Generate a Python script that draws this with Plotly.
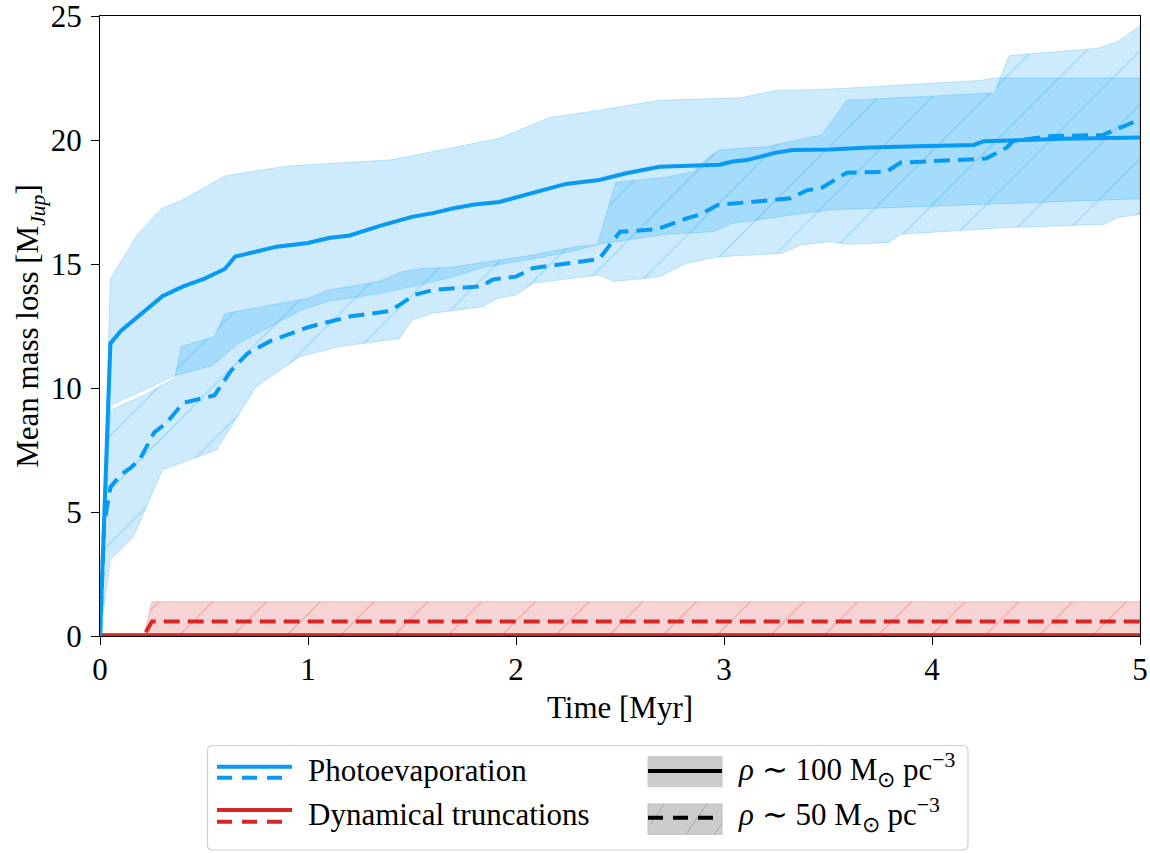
import plotly.graph_objects as go

# ---------------- data ----------------
# Photoevaporation, rho ~ 100 Msun/pc^3 (solid)
t_pe100 = [0, 0.05, 0.1, 0.2, 0.3, 0.4, 0.5, 0.6, 0.65, 0.7, 0.85, 1.0, 1.1, 1.2, 1.35,
           1.5, 1.6, 1.7, 1.8, 1.92, 2.08, 2.24, 2.4, 2.53, 2.69, 2.98, 3.04, 3.11, 3.25,
           3.33, 3.51, 3.7, 3.93, 4.2, 4.25, 4.63, 5.0]
m_pe100 = [0, 11.8, 12.3, 13.0, 13.7, 14.1, 14.4, 14.8, 15.3, 15.4, 15.7, 15.85, 16.05,
           16.15, 16.55, 16.9, 17.05, 17.25, 17.4, 17.5, 17.85, 18.23, 18.39, 18.66, 18.92,
           19.0, 19.13, 19.19, 19.49, 19.6, 19.62, 19.7, 19.75, 19.8, 19.95, 20.05, 20.1]
tu_pe100 = [0, 0.05, 0.18, 0.3, 0.4, 0.6, 0.9, 1.1, 1.4, 1.55, 1.7, 1.92, 2.16, 2.4, 2.69,
            3.08, 3.25, 3.5, 4.23, 4.3, 5.0]
u_pe100 = [0, 14.4, 16.2, 17.25, 17.6, 18.55, 18.95, 19.05, 19.2, 19.45, 19.7, 20.07, 20.9,
           21.2, 21.6, 21.7, 22.0, 22.05, 22.4, 22.5, 22.5]
tl_pe100 = [0, 0.05, 0.22, 0.36, 0.54, 0.665, 0.78, 0.97, 1.1, 1.34, 1.56, 1.7, 1.86, 2.08,
            2.29, 2.4, 2.72, 2.95, 3.04, 3.5, 4.23, 5.0]
l_pe100 = [0, 9.3, 9.95, 10.5, 10.9, 11.8, 12.3, 13.15, 13.5, 13.8, 14.2, 14.5, 14.9, 15.2,
           15.55, 15.8, 16.2, 16.3, 16.64, 17.18, 17.4, 17.63]

# Photoevaporation, rho ~ 50 Msun/pc^3 (dashed)
t_pe50 = [0, 0.02, 0.05, 0.1, 0.15, 0.19, 0.26, 0.32, 0.4, 0.55, 0.63, 0.71, 0.82, 1.0, 1.2,
          1.39, 1.44, 1.51, 1.6, 1.83, 1.89, 2.0, 2.08, 2.36, 2.4, 2.5, 2.68, 2.82, 2.88,
          2.97, 3.32, 3.4, 3.46, 3.59, 3.78, 3.85, 4.26, 4.36, 4.39, 4.58, 4.82, 5.0]
m_pe50 = [0, 4.5, 6.0, 6.5, 6.8, 7.1, 8.2, 8.6, 9.4, 9.7, 10.7, 11.4, 11.9, 12.45, 12.88,
          13.1, 13.35, 13.75, 13.95, 14.1, 14.38, 14.49, 14.83, 15.15, 15.2, 16.3, 16.4,
          16.84, 16.98, 17.38, 17.65, 17.98, 18.02, 18.68, 18.72, 19.09, 19.25, 19.7, 19.96,
          20.16, 20.2, 20.83]
tu_pe50 = [0, 0.05, 0.22, 0.36, 0.39, 0.55, 0.6, 0.78, 1.0, 1.1, 1.34, 1.45, 1.56, 1.68,
           1.86, 2.08, 2.29, 2.39, 2.48, 2.72, 2.85, 2.93, 2.98, 3.2, 3.41, 3.47, 3.59, 4.3,
           4.37, 4.8, 4.9, 5.0]
u_pe50 = [0, 9.1, 9.75, 10.4, 11.67, 12.07, 13.0, 13.28, 13.62, 13.95, 14.29, 14.69, 14.83,
          14.86, 15.09, 15.36, 15.7, 15.77, 18.3, 18.5, 18.72, 19.33, 19.6, 19.73, 20.1, 20.2,
          21.6, 21.9, 23.4, 23.7, 24.0, 24.6]
tl_pe50 = [0, 0.05, 0.16, 0.21, 0.3, 0.43, 0.56, 0.66, 0.75, 0.96, 1.15, 1.44, 1.5, 1.6,
           1.84, 1.91, 2.0, 2.08, 2.4, 2.47, 2.69, 2.82, 2.97, 3.28, 3.37, 3.51, 3.59, 3.79,
           3.85, 4.34, 4.83, 4.89, 5.0]
l_pe50 = [0, 3.06, 4.0, 4.95, 6.7, 7.1, 7.5, 8.84, 10.05, 11.26, 11.67, 12.0, 12.74, 13.01,
          13.28, 13.62, 13.75, 14.22, 14.56, 14.29, 14.49, 15.03, 15.29, 15.43, 15.77, 15.9,
          15.8, 15.86, 16.2, 16.46, 16.6, 16.87, 17.0]

# Dynamical truncations, rho ~ 100 (solid)
t_dt100 = [0, 5.0]
m_dt100 = [0.03, 0.03]
u_dt100 = [0.1, 0.1]
l_dt100 = [0.0, 0.0]

# Dynamical truncations, rho ~ 50 (dashed)
t_dt50 = [0, 0.21, 0.25, 5.0]
m_dt50 = [0, 0, 0.58, 0.58]
u_dt50 = [0, 0, 1.38, 1.38]
l_dt50 = [-0.22, -0.22, -0.22, -0.22]

# ---------------- styling ----------------
BLUE = "#069AF3"
RED = "#D62728"
FONT = "Liberation Serif"
FS = 31


def rgba(hexc, a):
    h = hexc.lstrip("#")
    r, g, b = int(h[0:2], 16), int(h[2:4], 16), int(h[4:6], 16)
    return f"rgba({r},{g},{b},{a})"


def band(tu, u, tl, l, color, hatch):
    xs = list(tu) + list(reversed(tl))
    ys = list(u) + list(reversed(l))
    kw = dict(x=xs, y=ys, mode="lines", fill="toself",
              fillcolor=rgba(color, 0.2),
              line=dict(width=1, color=rgba(color, 0.22)),
              hoverinfo="skip", showlegend=False)
    if hatch:
        kw["fillpattern"] = dict(shape="/", size=38, solidity=0.03,
                                 fgcolor=rgba(color, 0.3), fgopacity=1,
                                 bgcolor=rgba(color, 0.2), fillmode="replace")
    return go.Scatter(**kw)


fig = go.Figure()
fig.add_trace(band(tu_pe100, u_pe100, tl_pe100, l_pe100, BLUE, False))
fig.add_trace(band(tu_pe50, u_pe50, tl_pe50, l_pe50, BLUE, True))
fig.add_trace(band(t_dt100, u_dt100, t_dt100, l_dt100, RED, False))
fig.add_trace(band(t_dt50, u_dt50, t_dt50, l_dt50, RED, True))

fig.add_trace(go.Scatter(x=t_dt100, y=m_dt100, mode="lines",
                         line=dict(color=RED, width=4), showlegend=False))
fig.add_trace(go.Scatter(x=t_dt50, y=m_dt50, mode="lines",
                         line=dict(color=RED, width=4, dash="16px,8px"), showlegend=False))
fig.add_trace(go.Scatter(x=t_pe100, y=m_pe100, mode="lines",
                         line=dict(color=BLUE, width=4), showlegend=False))
fig.add_trace(go.Scatter(x=t_pe50, y=m_pe50, mode="lines",
                         line=dict(color=BLUE, width=4, dash="16px,8px"), showlegend=False))

# ---------------- layout ----------------
W, H = 1150, 853
ML, MR, MT, MB = 100, 10, 16, 217
PW, PH = W - ML - MR, H - MT - MB


def px(x):  # window pixel -> paper x
    return (x - ML) / PW


def py(y):  # window pixel -> paper y
    return (H - MB - y) / PH


axis_common = dict(showgrid=False, zeroline=False, showline=True, linecolor="black",
                   linewidth=1.2, mirror=True, ticks="outside", ticklen=8,
                   tickwidth=1.2, tickcolor="black", ticklabeloverflow="allow",
                   tickfont=dict(family=FONT, size=FS, color="black"))

fig.update_layout(
    width=W, height=H,
    margin=dict(l=ML, r=MR, t=MT, b=MB, autoexpand=False),
    paper_bgcolor="white", plot_bgcolor="white",
    showlegend=False,
    xaxis=dict(range=[0, 5], tickvals=[0, 1, 2, 3, 4, 5], ticktext=["0", "1", "2", "3", "4", "5"],
               ticklabelstandoff=-2,
               title=dict(text="Time [Myr]", font=dict(family=FONT, size=FS, color="black"),
                          standoff=10),
               **axis_common),
    yaxis=dict(range=[0, 25], tickvals=[0, 5, 10, 15, 20, 25],
               ticktext=["0", "5", "10", "15", "20", "25"],
               ticklabelstandoff=3,
               title=dict(text="Mean mass loss [M<sub><i>Jup</i></sub>]",
                          font=dict(family=FONT, size=FS, color="black"), standoff=2),
               **axis_common),
)

# ---------------- manual legend ----------------
def rounded_box(x0, y0, x1, y1, r):
    rx, ry = r / PW, r / PH
    X0, X1, Y0, Y1 = px(x0), px(x1), py(y1), py(y0)  # Y0 bottom, Y1 top
    return (f"M {X0 + rx},{Y0} L {X1 - rx},{Y0} Q {X1},{Y0} {X1},{Y0 + ry} "
            f"L {X1},{Y1 - ry} Q {X1},{Y1} {X1 - rx},{Y1} L {X0 + rx},{Y1} "
            f"Q {X0},{Y1} {X0},{Y1 - ry} L {X0},{Y0 + ry} Q {X0},{Y0} {X0 + rx},{Y0} Z")


shapes = []
shapes.append(dict(type="path", xref="paper", yref="paper",
                   path=rounded_box(207.5, 745.5, 968, 850, 5),
                   line=dict(color="#d0d0d0", width=1.2), fillcolor="white"))
# blue
shapes.append(dict(type="line", xref="paper", yref="paper", x0=px(217), x1=px(292),
                   y0=py(766.7), y1=py(766.7), line=dict(color=BLUE, width=4)))
shapes.append(dict(type="line", xref="paper", yref="paper", x0=px(217), x1=px(292),
                   y0=py(777.7), y1=py(777.7), line=dict(color=BLUE, width=4, dash="15px,10px")))
# red
shapes.append(dict(type="line", xref="paper", yref="paper", x0=px(217), x1=px(292),
                   y0=py(810), y1=py(810), line=dict(color=RED, width=4)))
shapes.append(dict(type="line", xref="paper", yref="paper", x0=px(217), x1=px(292),
                   y0=py(821.7), y1=py(821.7), line=dict(color=RED, width=4, dash="15px,10px")))
# gray patches
shapes.append(dict(type="rect", xref="paper", yref="paper", x0=px(648), x1=px(722),
                   y0=py(786.7), y1=py(756.7), fillcolor="#cccccc",
                   line=dict(color="#c4c4c4", width=1)))
shapes.append(dict(type="rect", xref="paper", yref="paper", x0=px(648), x1=px(722),
                   y0=py(834.3), y1=py(804), fillcolor="#cccccc",
                   line=dict(color="#bdbdbd", width=1)))
for (a, b, c, d) in [(650, 825, 664, 804), (686, 834.3, 707, 804), (714, 834.3, 722, 823)]:
    shapes.append(dict(type="line", xref="paper", yref="paper", x0=px(a), x1=px(c),
                       y0=py(b), y1=py(d), line=dict(color="#a8a8a8", width=1)))
shapes.append(dict(type="line", xref="paper", yref="paper", x0=px(648), x1=px(722),
                   y0=py(771), y1=py(771), line=dict(color="black", width=4)))
shapes.append(dict(type="line", xref="paper", yref="paper", x0=px(648), x1=px(722),
                   y0=py(817.7), y1=py(817.7), line=dict(color="black", width=4, dash="15px,10px")))
fig.update_layout(shapes=shapes)

ann_font = dict(family=FONT, size=FS, color="black")
labels = [
    (306, 770, "Photoevaporation"),
    (306, 814, "Dynamical truncations"),
    (736, 770, "<i>ρ</i> ∼ 100 M<sub>⊙</sub> pc<sup>−3</sup>"),
    (736, 815, "<i>ρ</i> ∼ 50 M<sub>⊙</sub> pc<sup>−3</sup>"),
]
for (x, y, txt) in labels:
    fig.add_annotation(xref="paper", yref="paper", x=px(x), y=py(y), text=txt,
                       showarrow=False, xanchor="left", yanchor="middle", font=ann_font)

# remove the browser's default 8px body margin so the figure fills the window exactly
fig.write_html("out.html",
               config={"displayModeBar": False},
               post_script="document.body.style.margin='0px';"
                           "document.documentElement.style.overflow='hidden';")
